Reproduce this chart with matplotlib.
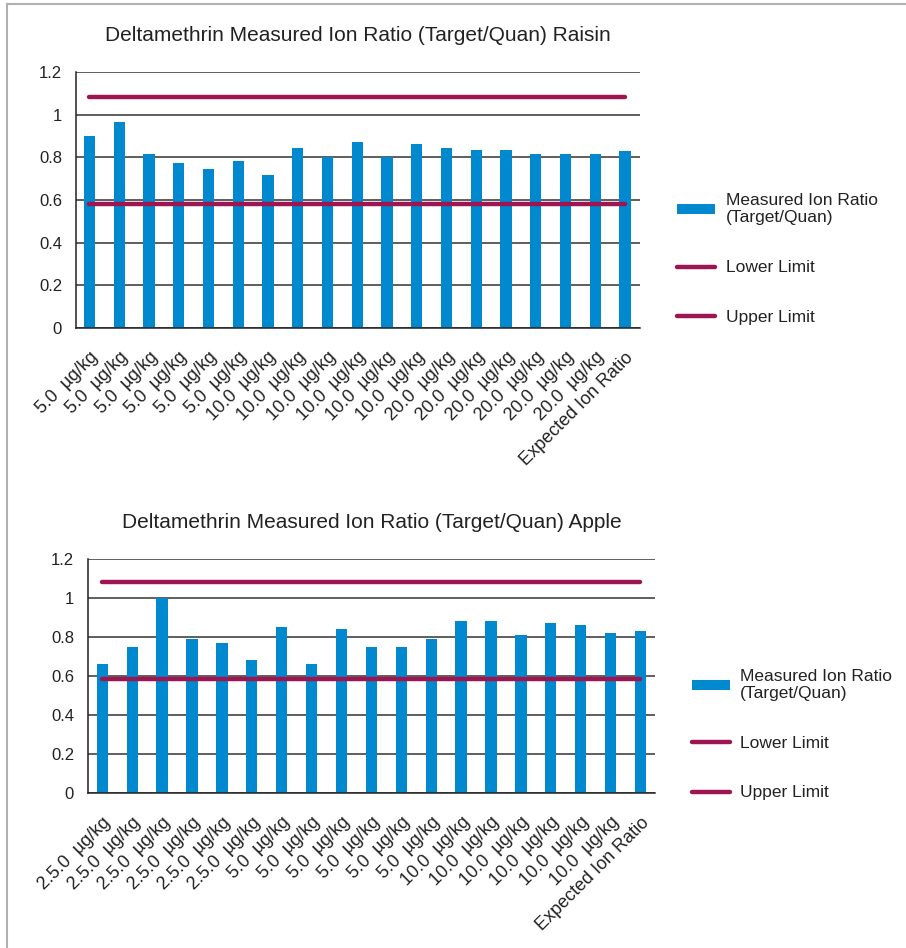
import matplotlib.pyplot as plt
from matplotlib.lines import Line2D

plt.rcParams['font.family'] = ['Liberation Sans', 'DejaVu Sans']

# Datos
raisin_labels = ['5.0  µg/kg'] * 6 + ['10.0  µg/kg'] * 6 + ['20.0  µg/kg'] * 6 + ['Expected Ion Ratio']
raisin_ratio = [0.90, 0.964, 0.817, 0.772, 0.745, 0.783, 0.717, 0.845, 0.80, 0.873,
                0.80, 0.862, 0.845, 0.836, 0.836, 0.817, 0.817, 0.817, 0.828]
raisin_lower = 0.581
raisin_upper = 1.083

apple_labels = ['2.5.0  µg/kg'] * 6 + ['5.0  µg/kg'] * 6 + ['10.0  µg/kg'] * 6 + ['Expected Ion Ratio']
apple_ratio = [0.66, 0.75, 1.00, 0.79, 0.77, 0.68, 0.85, 0.66, 0.84, 0.75,
               0.75, 0.79, 0.88, 0.88, 0.81, 0.87, 0.86, 0.82, 0.83]
apple_lower = 0.585
apple_upper = 1.082

BAR_COLOR = '#0089cf'
LIMIT_COLOR = '#9c1652'


def plot_ratio(ax, title, labels, ratio, lower, upper, xlim, legend_anchor):
    x = list(range(len(labels)))
    bars = ax.bar(x, ratio, width=0.38, color=BAR_COLOR, zorder=2)
    lo, = ax.plot(x, [lower] * len(x), color=LIMIT_COLOR, lw=3.2, solid_capstyle='round', zorder=3)
    up, = ax.plot(x, [upper] * len(x), color=LIMIT_COLOR, lw=3.2, solid_capstyle='round', zorder=3)
    ax.set_ylim(0, 1.2)
    ax.set_yticks([0, 0.2, 0.4, 0.6, 0.8, 1.0, 1.2])
    ax.set_yticklabels(['0', '0.2', '0.4', '0.6', '0.8', '1', '1.2'])
    ax.set_xlim(*xlim)
    ax.set_xticks(x)
    ax.set_xticklabels(labels, rotation=45, ha='right', rotation_mode='anchor')
    ax.tick_params(axis='x', length=0, pad=15, labelsize=13, labelcolor='#222222')
    ax.tick_params(axis='y', length=0, pad=10, labelsize=12, labelcolor='#222222')
    ax.grid(axis='y', color='#333333', lw=1.1, zorder=1)
    ax.set_axisbelow(True)
    for s in ['top', 'right']:
        ax.spines[s].set_visible(False)
    for s in ['left', 'bottom']:
        ax.spines[s].set_color('#222222')
        ax.spines[s].set_linewidth(1.1)
    ax.set_title(title, fontsize=15, pad=22, color='#222222')
    ax.legend([bars, lo, up], ['Measured Ion Ratio\n(Target/Quan)', 'Lower Limit', 'Upper Limit'],
              loc='center left', bbox_to_anchor=legend_anchor, frameon=False, fontsize=12.5,
              labelspacing=2.0, handlelength=2.2, handleheight=0.5, handletextpad=0.6,
              labelcolor='#222222')


fig = plt.figure(figsize=(9.06, 9.48), dpi=100)
ax1 = fig.add_axes([0.0839, 0.654, 0.6225, 0.270])
ax2 = fig.add_axes([0.0971, 0.1635, 0.626, 0.2468])

plot_ratio(ax1, 'Deltamethrin Measured Ion Ratio (Target/Quan) Raisin',
           raisin_labels, raisin_ratio, raisin_lower, raisin_upper, (-0.45, 18.5), (1.038, 0.27))
plot_ratio(ax2, 'Deltamethrin Measured Ion Ratio (Target/Quan) Apple',
           apple_labels, apple_ratio, apple_lower, apple_upper, (-0.48, 18.49), (1.037, 0.25))

# marco gris
fig.add_artist(Line2D([7 / 906, 1], [1 - 4 / 948, 1 - 4 / 948], color='#b0b0b0', lw=1.5))
fig.add_artist(Line2D([7 / 906, 7 / 906], [0, 1 - 4 / 948], color='#b0b0b0', lw=1.5))

fig.savefig('out.png', dpi=100)
plt.close()
